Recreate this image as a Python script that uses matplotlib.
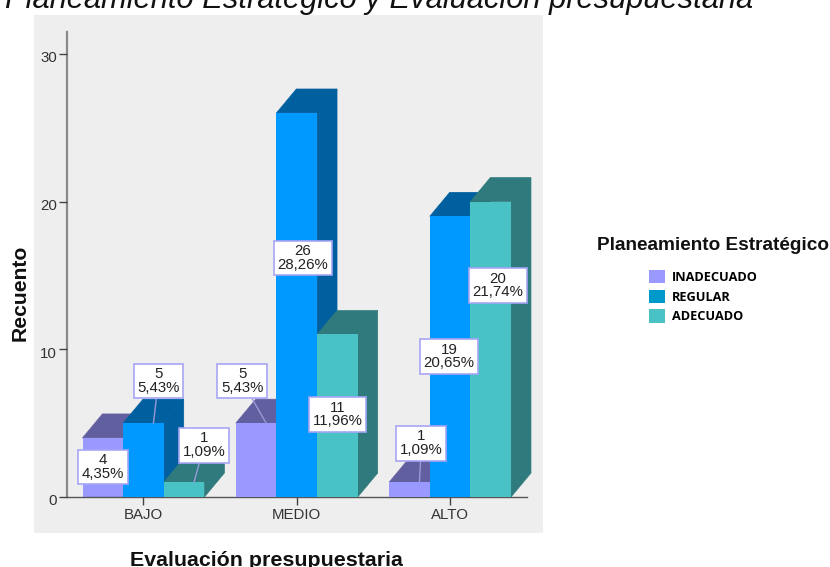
import matplotlib
matplotlib.use('Agg')
import matplotlib.pyplot as plt
from matplotlib.patches import Patch, Polygon
from matplotlib.transforms import ScaledTranslation

categorias = ['BAJO', 'MEDIO', 'ALTO']
series = ['INADECUADO', 'REGULAR', 'ADECUADO']
inadecuado = [4, 5, 1]
regular = [5, 26, 19]
adecuado = [1, 11, 20]
pct_inadecuado = ['4,35%', '5,43%', '1,09%']
pct_regular = ['5,43%', '28,26%', '20,65%']
pct_adecuado = ['1,09%', '11,96%', '21,74%']

# colores: frente, tapa/lado, leyenda
frente = ['#9999ff', '#0099ff', '#48c2c5']
oscuro = ['#625fa0', '#005f9f', '#2f7a7c']
leyenda = ['#9999ff', '#0099cc', '#48c2c5']

# desplazamiento de cada etiqueta respecto a su barra, en pixeles
offs_inadecuado = [(-10, -29), (-24, 42), (2, 39)]
offs_regular = [(5, 42), (-4, -145), (-11, -140)]
offs_adecuado = [(10, 37), (-10, -80), (-3, -84)]

plt.rcParams['font.family'] = ['Liberation Sans', 'DejaVu Sans']

W, H = 830, 567
fig = plt.figure(figsize=(W / 100, H / 100), dpi=100)
ax = fig.add_axes([34 / W, 1 - 533 / H, 509 / W, 518 / H], facecolor='#eeeeee')
ax.set_xlim(-0.714, 2.606)
ax.set_ylim(-2.44, 32.63)

ancho = 0.265
prof_x = 0.13
prof_y = 1.62

valores = [inadecuado, regular, adecuado]
porcentajes = [pct_inadecuado, pct_regular, pct_adecuado]
offsets = [offs_inadecuado, offs_regular, offs_adecuado]

z = 2
for c in range(len(categorias)):
    for s in range(len(series)):
        v = valores[s][c]
        x0 = c + (s - 1) * ancho - ancho / 2
        x1 = x0 + ancho
        # lado y tapa de la barra en falsa perspectiva
        ax.add_patch(Polygon([(x1, 0), (x1 + prof_x, prof_y), (x1 + prof_x, v + prof_y), (x1, v)],
                             facecolor=oscuro[s], edgecolor=oscuro[s], lw=0.5, zorder=z))
        ax.add_patch(Polygon([(x0, v), (x0 + prof_x, v + prof_y), (x1 + prof_x, v + prof_y), (x1, v)],
                             facecolor=oscuro[s], edgecolor=oscuro[s], lw=0.5, zorder=z))
        ax.bar(x0, v, width=ancho, align='edge', color=frente[s], zorder=z + 0.5)
        z += 1

for c in range(len(categorias)):
    for s in range(len(series)):
        v = valores[s][c]
        dx, dy = offsets[s][c]
        flecha = dict(arrowstyle='-', color='#9a9ad8', lw=1.0, shrinkA=0, shrinkB=0) if dy > 0 else None
        ax.annotate(f'{v}\n{porcentajes[s][c]}',
                    xy=(c + (s - 1) * ancho + prof_x / 2, v), xytext=(dx, dy),
                    textcoords='offset pixels', ha='center', va='center', fontsize=10.8,
                    color='#222222', linespacing=0.95, zorder=50, arrowprops=flecha,
                    bbox=dict(boxstyle='square,pad=0.24', facecolor='white', edgecolor='#a5a5f5', lw=1.2))

for lado in ['top', 'right']:
    ax.spines[lado].set_visible(False)
ax.spines['left'].set_position(('data', -0.502))
ax.spines['left'].set_bounds(0, 31.5)
ax.spines['left'].set_color('#8a8a8a')
ax.spines['left'].set_linewidth(1.6)
ax.spines['bottom'].set_position(('data', 0))
ax.spines['bottom'].set_bounds(-0.502, 2.5)
ax.spines['bottom'].set_color('#555555')
ax.spines['bottom'].set_linewidth(1.0)
ax.set_axisbelow(False)

ax.set_xticks(range(len(categorias)))
ax.set_xticklabels(categorias)
ax.set_yticks([0, 10, 20, 30])
ax.tick_params(axis='both', length=6, width=1.0, color='#444444', labelcolor='#333333', labelsize=10.8)
ax.tick_params(axis='y', pad=1)
ax.tick_params(axis='x', pad=2)
baja = ScaledTranslation(0, -3 / 100, fig.dpi_scale_trans)
for lab in ax.get_yticklabels():
    lab.set_transform(lab.get_transform() + baja)

fig.text(5 / W, 1 - 8 / H, 'Planeamiento Estratégico y Evaluación presupuestaria',
         fontsize=22.2, style='italic', color='#111111', ha='left', va='baseline')
fig.text(20.5 / W, 1 - 292.5 / H, 'Recuento', fontsize=15.2, fontweight='bold', rotation=90,
         ha='center', va='center', color='#111111')
fig.text(266.5 / W, 1 - 566 / H, 'Evaluación presupuestaria', fontsize=15.4, fontweight='bold',
         ha='center', va='baseline', color='#111111')
fig.text(713 / W, 1 - 246 / H, 'Planeamiento Estratégico', fontsize=13.7, fontweight='bold',
         ha='center', va='center', color='#111111')

handles = [Patch(facecolor=col, label=nom) for col, nom in zip(leyenda, series)]
fig.legend(handles=handles, loc='upper left', bbox_to_anchor=(645 / W, 1 - 266 / H), frameon=False,
           handlelength=1.25, handleheight=1.25, handletextpad=0.55, labelspacing=0.45,
           borderpad=0.3, borderaxespad=0,
           prop={'family': 'Open Sans', 'weight': 'bold', 'size': 9.2})

fig.savefig('out.png', dpi=100)
